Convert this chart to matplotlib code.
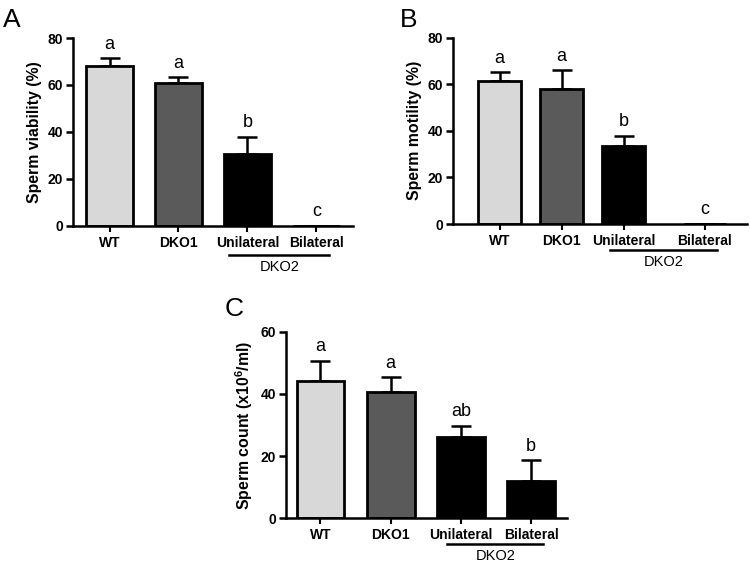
import numpy as np
import matplotlib
matplotlib.use("Agg")
import matplotlib.pyplot as plt

plt.rcParams['font.family'] = ['Liberation Sans', 'DejaVu Sans']
plt.rcParams['mathtext.fontset'] = 'custom'
plt.rcParams['mathtext.rm'] = 'Liberation Sans:bold'
plt.rcParams['mathtext.bf'] = 'Liberation Sans:bold'

groups = ['WT', 'DKO1', 'Unilateral', 'Bilateral']
group_label = 'DKO2'

viability = [68.0, 60.7, 30.6, 0.0]
viability_err = [3.4, 2.6, 7.4, 0.0]
viability_sig = ['a', 'a', 'b', 'c']

motility = [61.4, 58.1, 33.5, 0.0]
motility_err = [3.7, 8.0, 4.3, 0.0]
motility_sig = ['a', 'a', 'b', 'c']

count = [44.1, 40.7, 26.2, 12.0]
count_err = [6.5, 4.6, 3.5, 6.7]
count_sig = ['a', 'a', 'ab', 'b']

colors = ['#d8d8d8', '#5a5a5a', '#000000', '#000000']


def draw_panel(ax, pos, vals, errs, sig, ylabel, ymax, yticks, xlim,
               line_x, line_y, text_x, text_y):
    ax.bar(pos, vals, width=0.68, color=colors, edgecolor='black',
           linewidth=2, zorder=2)
    ax.errorbar(pos, vals, yerr=[np.zeros(len(vals)), errs], fmt='none',
                ecolor='black', elinewidth=1.8, capsize=7, capthick=1.8,
                zorder=1)
    for x, v, e, s in zip(pos, vals, errs, sig):
        ax.annotate(s, (x, v + e), xytext=(0, 4), textcoords='offset points',
                    ha='center', va='bottom', fontsize=13)
    ax.set_xlim(*xlim)
    ax.set_ylim(0, ymax)
    ax.set_yticks(yticks)
    ax.set_xticks(pos)
    ax.set_xticklabels(groups, fontweight='bold', fontsize=10)
    for lab in ax.get_yticklabels():
        lab.set_fontweight('bold')
        lab.set_fontsize(10)
    ax.set_ylabel(ylabel, fontweight='bold', fontsize=11.4, labelpad=4)
    ax.spines['top'].set_visible(False)
    ax.spines['right'].set_visible(False)
    ax.spines['left'].set_linewidth(1.8)
    ax.spines['bottom'].set_linewidth(1.8)
    ax.tick_params(axis='y', length=5, width=1.8, pad=2)
    ax.tick_params(axis='x', length=4, width=1.5, pad=3)
    tr = ax.get_xaxis_transform()
    ax.plot(line_x, [line_y, line_y], color='black', lw=1.8,
            transform=tr, clip_on=False)
    ax.text(text_x, text_y, group_label, transform=tr, ha='center',
            va='center', fontsize=10.5)


fig = plt.figure(figsize=(7.5, 5.63), dpi=100)

axA = fig.add_axes([0.0973, 0.5986, 0.3733, 0.3339])
draw_panel(axA, [0, 1, 2, 3], viability, viability_err, viability_sig,
           'Sperm viability (%)', 80, [0, 20, 40, 60, 80], (-0.53, 3.53),
           [1.73, 3.18], -0.154, 2.47, -0.218)

axB = fig.add_axes([0.604, 0.6021, 0.392, 0.3309])
draw_panel(axB, [0, 1, 2, 3.31], motility, motility_err, motility_sig,
           'Sperm motility (%)', 80, [0, 20, 40, 60, 80], (-0.75, 3.99),
           [1.78, 3.51], -0.14, 2.64, -0.204)

axC = fig.add_axes([0.3813, 0.0794, 0.3747, 0.3314])
draw_panel(axC, [0, 1, 2, 3], count, count_err, count_sig,
           r'Sperm count (x10$^6$/ml)', 60, [0, 20, 40, 60], (-0.49, 3.51),
           [1.80, 3.17], -0.139, 2.49, -0.2)

fig.text(0.004, 0.985, 'A', fontsize=19, va='top', ha='left')
fig.text(0.533, 0.985, 'B', fontsize=19, va='top', ha='left')
fig.text(0.299, 0.473, 'C', fontsize=19, va='top', ha='left')

fig.savefig('out.png', dpi=100)
